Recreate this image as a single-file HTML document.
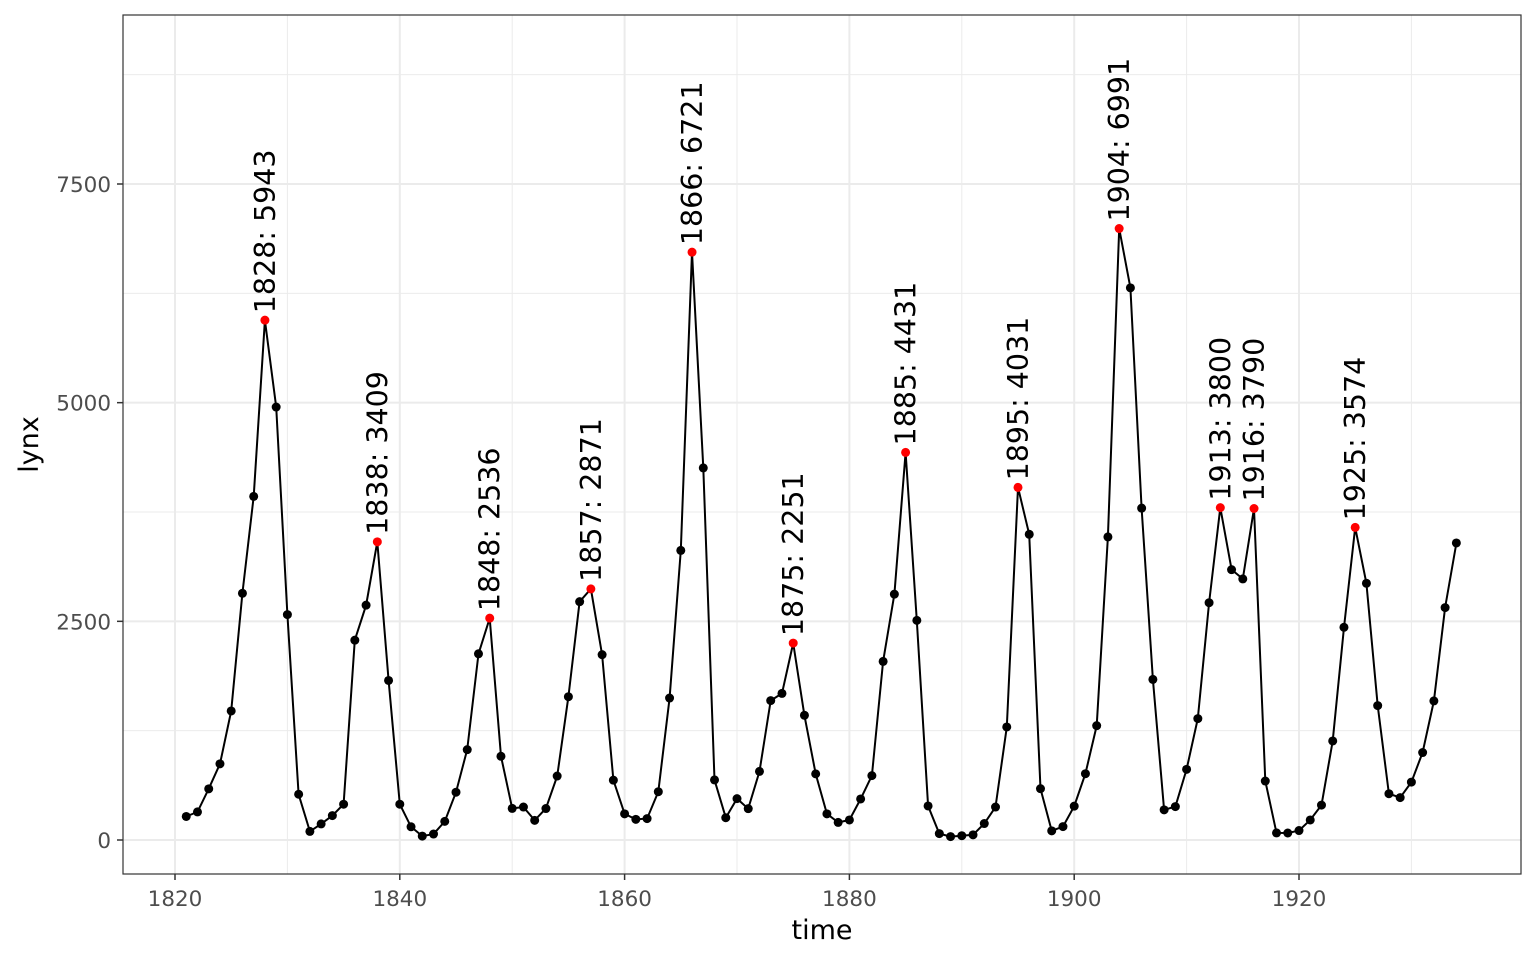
<!DOCTYPE html>
<html><head><meta charset="utf-8"><style>
html,body{margin:0;padding:0;background:#fff;}
svg{display:block;font-family:"DejaVu Sans","Liberation Sans",sans-serif;}
</style></head><body>
<svg id="s" width="1536" height="960" xmlns="http://www.w3.org/2000/svg"></svg>
<script>
const d=[269,321,585,871,1475,2821,3928,5943,4950,2577,523,98,184,279,409,2285,2685,3409,1824,409,151,45,68,213,546,1033,2129,2536,957,361,377,225,360,731,1638,2725,2871,2119,684,299,236,245,552,1623,3311,6721,4254,687,255,473,358,784,1594,1676,2251,1426,756,299,201,229,469,736,2042,2811,4431,2511,389,73,39,49,59,188,377,1292,4031,3495,587,105,153,387,758,1307,3465,6991,6313,3794,1836,345,382,808,1388,2713,3800,3091,2985,3790,674,81,80,108,229,399,1132,2432,3574,2935,1537,529,485,662,1000,1590,2657,3396];
const X=y=>175+(y-1820)*11.24, Y=v=>840-v*656/7500;
const L=123,R=1521,T=15,B=874;
let h='<rect x="'+L+'" y="'+T+'" width="'+(R-L)+'" height="'+(B-T)+'" fill="#fff"/>';
for(let y=1830;y<=1930;y+=20)h+=`<line x1="${X(y)}" x2="${X(y)}" y1="${T}" y2="${B}" stroke="#ebebeb" stroke-width="1"/>`;
for(let v=1250;v<=8750;v+=2500)h+=`<line x1="${L}" x2="${R}" y1="${Y(v)}" y2="${Y(v)}" stroke="#ebebeb" stroke-width="1"/>`;
for(let y=1820;y<=1920;y+=20)h+=`<line x1="${X(y)}" x2="${X(y)}" y1="${T}" y2="${B}" stroke="#ebebeb" stroke-width="2"/>`;
for(let v=0;v<=7500;v+=2500)h+=`<line x1="${L}" x2="${R}" y1="${Y(v)}" y2="${Y(v)}" stroke="#ebebeb" stroke-width="2"/>`;
let p=d.map((v,i)=>X(1821+i).toFixed(1)+','+Y(v).toFixed(1)).join(' ');
h+=`<polyline points="${p}" fill="none" stroke="#000" stroke-width="2"/>`;
const pk=[1828,1838,1848,1857,1866,1875,1885,1895,1904,1913,1916,1925];
d.forEach((v,i)=>{const yr=1821+i;h+=`<circle cx="${X(yr)}" cy="${Y(v)}" r="4.5" fill="${pk.includes(yr)?'#f00':'#000'}"/>`;});
pk.forEach(yr=>{const v=d[yr-1821],x=X(yr)+10,y=Y(v)-7;h+=`<text x="${x}" y="${y}" transform="rotate(-90 ${x} ${y})" font-size="28.5" fill="#000">${yr}: ${v}</text>`;});
h+=`<rect x="${L}" y="${T}" width="${R-L}" height="${B-T}" fill="none" stroke="#333" stroke-width="1.2"/>`;
for(let y=1820;y<=1920;y+=20){h+=`<line x1="${X(y)}" x2="${X(y)}" y1="${B}" y2="${B+6}" stroke="#333" stroke-width="1.5"/><text x="${X(y)}" y="${B+32}" font-size="21.5" fill="#4d4d4d" text-anchor="middle">${y}</text>`;}
for(let v=0;v<=7500;v+=2500){h+=`<line x1="${L-6}" x2="${L}" y1="${Y(v)}" y2="${Y(v)}" stroke="#333" stroke-width="1.5"/><text x="${L-12}" y="${Y(v)+8}" font-size="21.5" fill="#4d4d4d" text-anchor="end">${v}</text>`;}
h+=`<text x="${(L+R)/2}" y="939" font-size="27" text-anchor="middle">time</text>`;
h+=`<text x="38" y="${(T+B)/2}" font-size="27" text-anchor="middle" transform="rotate(-90 38 ${(T+B)/2})">lynx</text>`;
document.getElementById('s').innerHTML=h;
</script>
</body></html>
